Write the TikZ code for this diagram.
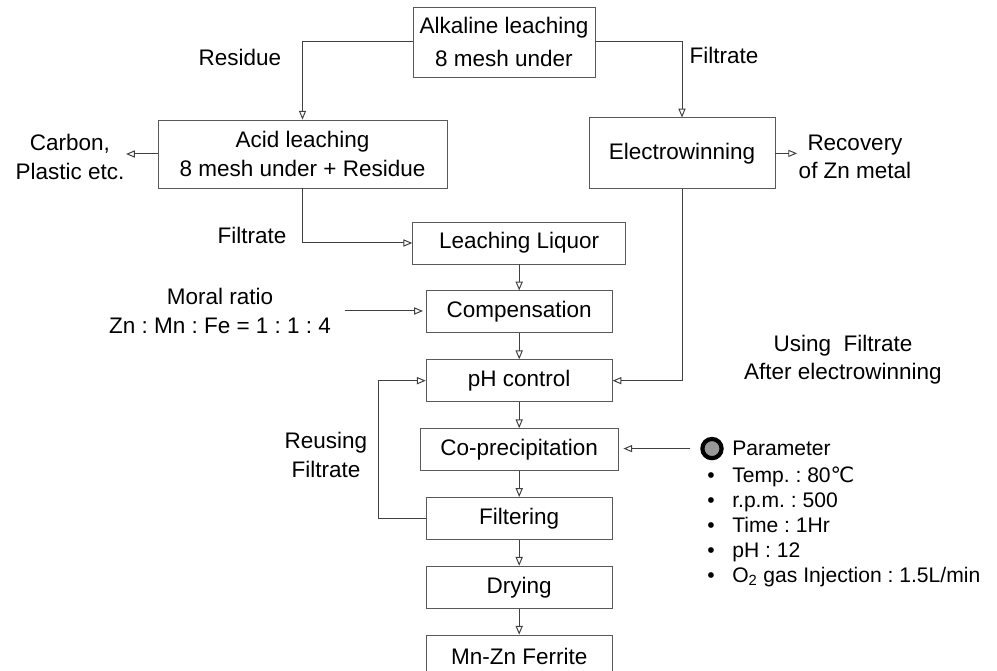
\documentclass[tikz,border=0pt]{standalone}
\usepackage{fontspec}
\setmainfont{Liberation Sans}
\newfontfamily\symfont{DejaVu Sans}
\usepackage{xcolor}
\usetikzlibrary{arrows.meta,positioning}
\frenchspacing

\begin{document}
\begin{tikzpicture}[font=\fontsize{16}{20}\selectfont,
  proc/.style={draw=black!65, line width=0.6pt, minimum height=1.05cm, align=center, inner sep=2pt},
  flow/.style={draw=black!75, line width=0.7pt, -{Triangle[open, length=2.2mm, width=1.8mm]}},
  lbl/.style={align=center, inner sep=1pt},
  plist/.style={anchor=base west, inner sep=0pt, font=\fontsize{15}{18}\selectfont}]
\useasboundingbox (0,0) rectangle (24.925,16.775);

% ---------- leaching stage (top) ----------
\node[proc, minimum width=4.55cm, minimum height=1.75cm] (alk) at (12.6,15.725)
  {Alkaline leaching\\[3pt]8 mesh under};
\node[proc, minimum width=7.225cm, minimum height=1.7cm] (acid) at (7.5625,12.925)
  {Acid leaching\\8 mesh under + Residue};
\node[proc, minimum width=4.65cm, minimum height=1.775cm] (ew) at (17.05,12.94) {Electrowinning};
\node[lbl] (carbon) at (1.75,12.85) {Carbon,\\Plastic etc.};
\node[lbl] (recov) at (21.375,12.85) {Recovery\\of Zn metal};
\node[lbl] at (6.0,15.35) {Residue};
\node[lbl] at (18.1,15.4) {Filtrate};
\node[lbl] at (6.3,10.9) {Filtrate};

\draw[flow] (alk.west) -| (acid.north);
\draw[flow] (alk.east) -| (ew.north);
\draw[flow] (acid.west) -- (acid.west -| carbon.east);
\draw[flow] (ew.east) -- (ew.east -| recov.west);

% ---------- ferrite synthesis column ----------
\node[proc, minimum width=5.325cm] (liq) at (12.98,10.7) {Leaching Liquor};
\node[proc, minimum width=4.65cm, below=0.65cm of liq] (comp) {Compensation};
\node[proc, minimum width=4.65cm, below=0.65cm of comp] (ph) {pH control};
\node[proc, minimum width=4.95cm, below=0.65cm of ph] (cop) {Co-precipitation};
\node[proc, minimum width=4.65cm, below=0.65cm of cop] (filt) {Filtering};
\node[proc, minimum width=4.65cm, below=0.65cm of filt] (dry) {Drying};
\node[proc, minimum width=4.65cm, below=0.65cm of dry] (fer) {Mn-Zn Ferrite};

\draw[flow] (acid.south) |- (liq.west);
\foreach \a/\b in {liq/comp,comp/ph,ph/cop,cop/filt,filt/dry,dry/fer}{
  \draw[flow] (\a.south) -- (\b.north);}

% ---------- side inputs ----------
\node[lbl] (moral) at (5.5,9.0) {Moral ratio\\Zn : Mn : Fe = 1 : 1 : 4};
\draw[flow, shorten <=0.3cm, shorten >=2pt] (moral.east) -- (moral.east -| comp.west);

\node[lbl] at (21.075,7.775) {Using\ \ Filtrate\\After electrowinning};
\draw[flow] (ew.south) |- (ph.east);

\node[lbl] at (8.15,5.4) {Reusing\\Filtrate};
\draw[flow] (filt.west) -- ++(-1.175,0) |- (ph.west);

% ---------- parameters ----------
\node[circle, draw=black, line width=3pt, fill=black!40, minimum size=0.48cm, inner sep=0pt] (dot) at (17.8,5.56) {};
\node[plist] (par) at (18.3,5.39) {Parameter};
\draw[flow, shorten <=0.25cm, shorten >=0.12cm] (dot.west) -- (dot.west -| cop.east);
\foreach \t [count=\i] in {{Temp. : 80{\symfont ℃}}, {r.p.m. : 500}, {Time : 1Hr}, {pH : 12},
    {O\textsubscript{2} gas Injection : 1.5L/min}}{
  \node[plist] (b\i) at (17.68,5.345-0.625*\i) {•};
  \node[plist] (p\i) at (18.3,5.345-0.625*\i) {\t};}
\end{tikzpicture}
\end{document}
